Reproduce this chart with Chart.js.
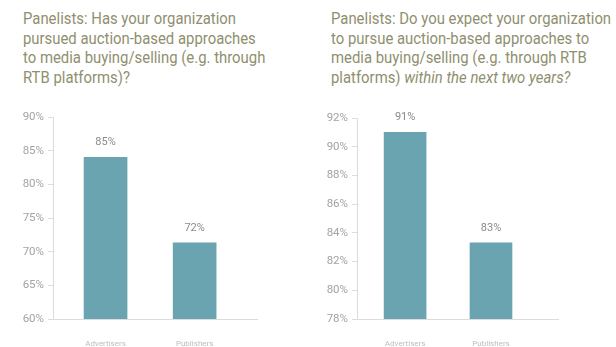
<!DOCTYPE html>
<html>
<head>
<meta charset="utf-8">
<script src="https://cdn.jsdelivr.net/npm/chart.js@4"></script>
<style>
  html, body { margin: 0; padding: 0; background: #fff; }
  body { width: 616px; height: 347px; position: relative; overflow: hidden; }
  .title {
    position: absolute; color: #8f8f6e;
    font-family: "Roboto", "Liberation Sans", sans-serif;
    font-size: 16px; line-height: 19.5px; white-space: nowrap;
    transform: scaleX(0.93); transform-origin: 0 0;
  }
  .title i { font-style: italic; }
  .wrap { position: absolute; }
</style>
</head>
<body>
<div class="title" id="t1" style="left:23px; top:9px;">Panelists: Has your organization<br>pursued auction-based approaches<br>to media buying/selling (e.g. through<br>RTB platforms)?</div>
<div class="title" id="t2" style="left:331px; top:9px;">Panelists: Do you expect your organization<br>to pursue auction-based approaches to<br>media buying/selling (e.g. through RTB<br>platforms) <i>within the next two years?</i></div>
<div class="wrap" style="left:0px; top:100px; width:300px; height:247px;"><canvas id="c1" width="300" height="247"></canvas></div>
<div class="wrap" style="left:308px; top:100px; width:308px; height:247px;"><canvas id="c2" width="308" height="247"></canvas></div>
<script>
// ---- data ----
const categories = ["Advertisers", "Publishers"];
const currentValues = [84.0, 71.3];
const currentLabels = ["85%", "72%"];
const futureValues = [91.0, 83.3];
const futureLabels = ["91%", "83%"];
const currentTicks = [60, 65, 70, 75, 80, 85, 90];
const futureTicks = [78, 80, 82, 84, 86, 88, 90, 92];

const BAR = "#6aa4b1";
const AXIS = "#dcdcdc";
const FONT = "'Roboto', 'Liberation Sans', sans-serif";

const valueLabelPlugin = {
  id: "valueLabels",
  afterDatasetsDraw(chart, args, opts) {
    const ctx = chart.ctx;
    const meta = chart.getDatasetMeta(0);
    ctx.save();
    ctx.font = "11px " + FONT;
    ctx.fillStyle = "#8a8a8a";
    ctx.textAlign = "center";
    ctx.textBaseline = "middle";
    meta.data.forEach((bar, i) => {
      ctx.fillText(opts.labels[i], bar.x, bar.y - opts.gap);
    });
    ctx.restore();
  }
};

function makeChart(id, values, labels, ticks, cfg) {
  const points = values.map((v, i) => ({ x: i, y: v }));
  return new Chart(document.getElementById(id), {
    type: "bar",
    data: {
      datasets: [{
        data: points,
        backgroundColor: BAR,
        borderWidth: 0,
        barThickness: cfg.barWidth
      }]
    },
    plugins: [valueLabelPlugin],
    options: {
      responsive: false,
      animation: false,
      events: [],
      layout: { padding: { left: 0, right: cfg.padRight, top: cfg.padTop, bottom: 0 } },
      plugins: {
        legend: { display: false },
        tooltip: { enabled: false },
        title: { display: false },
        valueLabels: { labels: labels, gap: 15 }
      },
      scales: {
        x: {
          type: "linear",
          offset: false,
          min: cfg.xMin,
          max: cfg.xMax,
          afterBuildTicks(scale) { scale.ticks = categories.map((_, i) => ({ value: i })); },
          afterFit(scale) { scale.height = 28; },
          grid: { display: false },
          border: { display: true, color: AXIS, width: 1 },
          ticks: {
            autoSkip: false,
            maxRotation: 0,
            padding: 12,
            color: "#bdbdbd",
            font: { family: FONT, size: 8 },
            callback: (v) => categories[v]
          }
        },
        y: {
          min: ticks[0],
          max: ticks[ticks.length - 1],
          afterBuildTicks(scale) { scale.ticks = ticks.map(v => ({ value: v })); },
          afterFit(scale) { scale.width = cfg.yWidth; },
          grid: { display: true, drawOnChartArea: false, drawTicks: true, tickLength: 5, color: AXIS },
          border: { display: true, color: AXIS, width: 1 },
          ticks: {
            padding: 4,
            color: "#a3a3a3",
            font: { family: FONT, size: 11.5 },
            callback: (v) => v + "%"
          }
        }
      }
    }
  });
}

makeChart("c1", currentValues, currentLabels, currentTicks,
  { xMin: -0.59, xMax: 1.70, barWidth: 43, padRight: 43, padTop: 17, yWidth: 53 });
makeChart("c2", futureValues, futureLabels, futureTicks,
  { xMin: -0.56, xMax: 1.78, barWidth: 42, padRight: 58, padTop: 18, yWidth: 49 });
</script>
</body>
</html>
